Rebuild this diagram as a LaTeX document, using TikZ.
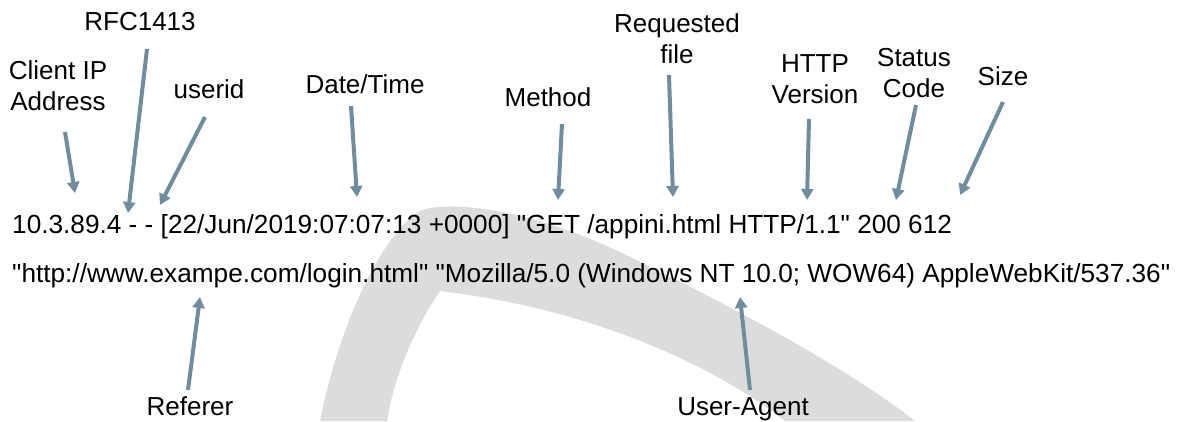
\documentclass[tikz,border=0pt]{standalone}
\usepackage{fontspec}
\setmainfont{Liberation Sans}[Ligatures=TeXOff]
\usetikzlibrary{arrows.meta}
\definecolor{arrowgray}{RGB}{112,141,158}
\definecolor{wmgray}{RGB}{220,220,220}

\begin{document}
\begin{tikzpicture}[x=1pt,y=-1pt,
    pointer/.style={color=arrowgray,line width=4pt,-{Triangle[width=12pt,length=11pt]}},
    lbl/.style={align=center,inner sep=0pt,anchor=base,font=\fontsize{26}{31}\selectfont},
    logline/.style={inner sep=0pt,anchor=base west,font=\fontsize{26.2}{31}\selectfont}]
    \useasboundingbox (0,0) rectangle (1180,421);

    % watermark in the background
    \fill[wmgray] (320,421) .. controls (338,330) and (378,240) .. (418,212)
        .. controls (440,200) and (520,205) .. (620,252)
        .. controls (740,310) and (850,370) .. (915,421) -- (785,421)
        .. controls (720,370) and (600,310) .. (440,291)
        .. controls (420,320) and (395,370) .. (387,421) -- cycle;

    \node[logline] (first) at (12,233) {10.3.89.4 - - [22/Jun/2019:07:07:13 +0000] "GET /appini.html HTTP/1.1" 200 612};
    \node[logline] (second) at (12,282) {"http://www.exampe.com/login.html" "Mozilla/5.0 (Windows NT 10.0; WOW64) AppleWebKit/537.36"};

    \node[lbl] (ip) at (58,110) {Client IP\\Address};
        \coordinate (ip-a) at (65,132);
        \coordinate (ip-b) at (75,193);
    \node[lbl] (rfc) at (140,30) {RFC1413};
        \coordinate (rfc-a) at (147,49);
        \coordinate (rfc-b) at (128,213);
    \node[lbl] (uid) at (209,98) {userid};
        \coordinate (uid-a) at (205,117);
        \coordinate (uid-b) at (160,205);
    \node[lbl] (dt) at (365,93) {Date/Time};
        \coordinate (dt-a) at (351,106);
        \coordinate (dt-b) at (357,197);
    \node[lbl] (meth) at (548,106) {Method};
        \coordinate (meth-a) at (562,124);
        \coordinate (meth-b) at (558,200);
    \node[lbl] (req) at (677,63) {Requested\\file};
        \coordinate (req-a) at (669,75);
        \coordinate (req-b) at (673,197);
    \node[lbl] (ver) at (815,103) {HTTP\\Version};
        \coordinate (ver-a) at (809,119);
        \coordinate (ver-b) at (807,200);
    \node[lbl] (stat) at (914,97) {Status\\Code};
        \coordinate (stat-a) at (916,105);
        \coordinate (stat-b) at (896,200);
    \node[lbl] (size) at (1003,85) {Size};
        \coordinate (size-a) at (1003,102);
        \coordinate (size-b) at (960,195);

    \node[lbl] (ref) at (190,415) {Referer};
        \coordinate (ref-a) at (188,390);
        \coordinate (ref-b) at (200,297);
    \node[lbl] (ua) at (743,415) {User-Agent};
        \coordinate (ua-a) at (750,390);
        \coordinate (ua-b) at (740,297);

    \foreach \n in {ip,rfc,uid,dt,meth,req,ver,stat,size,ref,ua}
        \draw[pointer] (\n-a) -- (\n-b);
\end{tikzpicture}
\end{document}
